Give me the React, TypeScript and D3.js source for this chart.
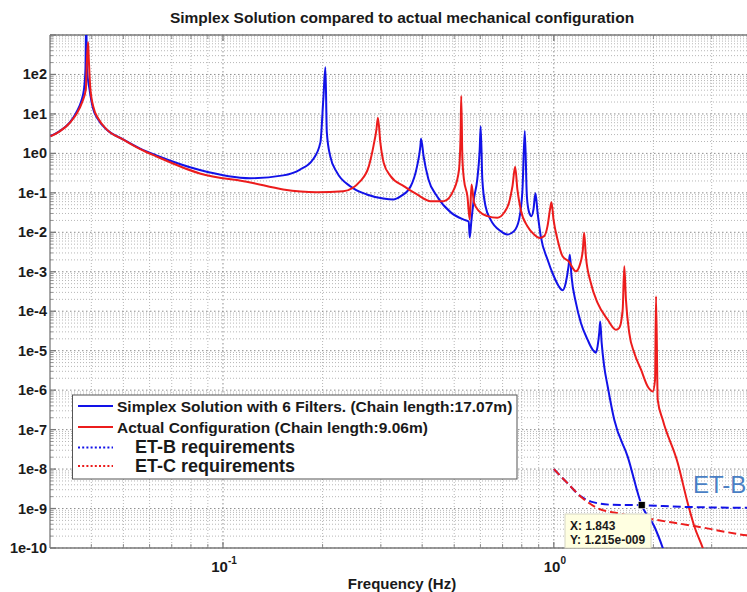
import React from "react";
import * as d3 from "d3";

const TITLE = "Simplex Solution compared to actual mechanical configuration";
const X_LABEL = "Frequency (Hz)";
const LEGEND_LABELS = [
  "Simplex Solution with 6 Filters. (Chain length:17.07m)",
  "Actual Configuration (Chain length:9.06m)",
  "ET-B requirements",
  "ET-C requirements",
];
const Y_TICK_VALUES = [1e2, 1e1, 1e0, 1e-1, 1e-2, 1e-3, 1e-4, 1e-5, 1e-6, 1e-7, 1e-8, 1e-9, 1e-10];
const Y_TICK_LABELS = ["1e2", "1e1", "1e0", "1e-1", "1e-2", "1e-3", "1e-4", "1e-5", "1e-6", "1e-7", "1e-8", "1e-9", "1e-10"];
const X_TICK_VALUES = [0.1, 1];
const X_TICK_EXPONENTS = ["-1", "0"];
const TIP_X = 1.843;
const TIP_Y = 1.215e-9;
const TIP_LABELS = ["X: 1.843", "Y: 1.215e-009"];
const ETB_LABEL = "ET-B";

// [frequency (Hz), magnitude]
const simplexData: [number, number][] = [
  [0.0301, 2.75], [0.0321, 3.68], [0.0344, 6.0], [0.036, 10.8], [0.0373, 21.2], [0.038, 42],
  [0.0384, 135], [0.0386, 3000], [0.0388, 135], [0.0395, 42], [0.0404, 14.5], [0.0419, 7.3],
  [0.0444, 4.07], [0.0499, 2.27], [0.056, 1.34], [0.0635, 0.86], [0.0851, 0.38], [0.121, 0.235],
  [0.152, 0.277], [0.171, 0.39], [0.187, 0.7], [0.197, 1.9], [0.201, 23], [0.204, 152],
  [0.206, 3.4], [0.211, 0.84], [0.221, 0.33], [0.243, 0.145], [0.272, 0.091], [0.305, 0.072],
  [0.327, 0.068], [0.344, 0.081], [0.369, 0.145], [0.386, 0.47], [0.395, 1.5], [0.397, 2.36],
  [0.404, 0.84], [0.418, 0.219], [0.444, 0.081], [0.488, 0.032], [0.534, 0.021], [0.553, 0.0188],
  [0.557, 0.0074], [0.563, 0.0183], [0.573, 0.068], [0.587, 0.219], [0.597, 1.26], [0.601, 4.9],
  [0.608, 0.219], [0.622, 0.045], [0.644, 0.021], [0.691, 0.0107], [0.724, 0.0088], [0.758, 0.0107],
  [0.785, 0.021], [0.804, 0.122], [0.817, 3.7], [0.829, 0.082], [0.842, 0.032], [0.856, 0.0257],
  [0.868, 0.038], [0.88, 0.098], [0.893, 0.032], [0.913, 0.008], [0.957, 0.00204], [1.0, 7.7e-4],
  [1.035, 4.3e-4], [1.063, 3.4e-4], [1.087, 5.3e-4], [1.108, 1.38e-3], [1.118, 2.7e-3], [1.131, 7.7e-4],
  [1.166, 1.65e-4], [1.207, 5.1e-5], [1.265, 1.9e-5], [1.31, 1.06e-5], [1.34, 8.9e-6], [1.356, 1.29e-5],
  [1.372, 2.86e-5], [1.381, 5.5e-5], [1.395, 1.6e-5], [1.42, 4.0e-6], [1.455, 1.24e-6], [1.523, 1.77e-7],
  [1.672, 2.07e-8], [1.843, 1.215e-9], [2.013, 3.5e-10], [2.135, 1e-10], [2.18, 6e-11],
];

const actualData: [number, number][] = [
  [0.0301, 2.7], [0.0321, 3.6], [0.0344, 5.9], [0.0361, 10.1], [0.0375, 19.7], [0.0385, 42],
  [0.0388, 243], [0.0391, 660], [0.0393, 243], [0.0397, 47], [0.0406, 14.7], [0.0421, 7.3],
  [0.0445, 4.07], [0.0501, 2.2], [0.056, 1.3], [0.0635, 0.81], [0.0851, 0.31], [0.121, 0.184],
  [0.152, 0.122], [0.192, 0.104], [0.231, 0.11], [0.26, 0.198], [0.276, 0.476], [0.285, 1.53],
  [0.291, 4.07], [0.294, 8.05], [0.299, 1.87], [0.306, 0.58], [0.321, 0.265], [0.352, 0.148],
  [0.386, 0.091], [0.424, 0.0615], [0.465, 0.0615], [0.499, 0.122], [0.517, 0.39], [0.523, 4.07],
  [0.525, 28.5], [0.529, 0.85], [0.535, 0.219], [0.548, 0.082], [0.557, 0.021], [0.564, 0.163],
  [0.574, 0.056], [0.594, 0.0344], [0.63, 0.0257], [0.675, 0.0234], [0.707, 0.0313], [0.732, 0.056],
  [0.75, 0.148], [0.764, 0.46], [0.776, 0.122], [0.794, 0.038], [0.832, 0.0143], [0.872, 0.0088],
  [0.903, 0.0072], [0.935, 0.008], [0.957, 0.0143], [0.974, 0.038], [0.984, 0.058], [0.998, 0.021],
  [1.026, 0.0066], [1.063, 0.00247], [1.11, 0.00182], [1.166, 0.00103], [1.199, 0.00152], [1.224, 0.00366],
  [1.235, 0.0097], [1.25, 0.00247], [1.294, 5.2e-4], [1.356, 1.62e-4], [1.455, 6.1e-5], [1.541, 3.4e-5],
  [1.577, 3.8e-5], [1.615, 1.1e-4], [1.633, 1.38e-3], [1.652, 1.97e-4], [1.691, 2.8e-5], [1.751, 8.7e-6],
  [1.835, 3.3e-6], [1.922, 1.24e-6], [1.991, 9.3e-7], [2.023, 1.84e-6], [2.037, 2.4e-4], [2.061, 5.7e-7],
  [2.134, 1.77e-7], [2.37, 1.41e-8], [2.54, 1.36e-9], [2.66, 3.5e-10], [2.82, 1e-10], [2.89, 5.6e-11],
];

const etbData: [number, number][] = [
  [1.0, 1e-8], [1.1, 4.4e-9], [1.2, 2.1e-9], [1.295, 1.5e-9], [1.488, 1.25e-9], [1.843, 1.215e-9],
  [2.48, 1.1e-9], [4.0, 1.04e-9],
];

const etcData: [number, number][] = [
  [1.0, 1e-8], [1.1, 4.4e-9], [1.207, 2.0e-9], [1.357, 1.02e-9], [1.56, 7.6e-10], [1.97, 5.4e-10],
  [2.66, 3.6e-10], [3.82, 2.1e-10], [4.0, 2.0e-10],
];

const W = 747;
const H = 592;
const PL = 50, PT = 35, PR = 753, PB = 548;
const FONT = "'Liberation Sans', Arial, Helvetica, sans-serif";
const BLUE = "#1212e8";
const RED = "#ec1c1c";
const AXIS = "#7a7a7a";

export default function App() {
  const x = d3.scaleLog().domain([0.03, 4]).range([PL, PR]);
  const y = d3.scaleLog().domain([1e-10, 1e3]).range([PB, PT]);

  const line = d3
    .line<[number, number]>()
    .x((d) => x(d[0]))
    .y((d) => y(d[1]))
    .curve(d3.curveMonotoneX);

  const xMinor: number[] = [];
  [0.01, 0.1, 1].forEach((d) => {
    for (let k = 2; k <= 9; k++) {
      const v = k * d;
      if (v > 0.03 && v < 4.0001) xMinor.push(v);
    }
  });
  const yMinor: number[] = [];
  for (let e = -10; e <= 2; e++) {
    for (let k = 2; k <= 9; k++) yMinor.push(k * Math.pow(10, e));
  }
  const yMajor = d3.range(-10, 4).map((e) => Math.pow(10, e));

  const legendY = [406, 427, 447.5, 466];
  const legendTextY = [411.5, 432.5, 453, 471.5];
  const legendColors = [BLUE, RED, BLUE, RED];
  const legendDash = [null, null, "2 2.2", "2 2.2"];

  return (
    <svg
      width={W}
      height={H}
      style={{ position: "absolute", left: 0, top: 0, display: "block", background: "#fff" }}
      fontFamily={FONT}
    >
      <defs>
        <clipPath id="plotclip">
          <rect x={PL} y={PT} width={PR - PL} height={PB - PT} />
        </clipPath>
      </defs>
      <rect x={0} y={0} width={W} height={H} fill="#fff" />

      {/* grid */}
      <g>
        {xMinor.map((v, i) => (
          <line key={"xm" + i} x1={x(v)} x2={x(v)} y1={PT} y2={PB} stroke="#a4a4a4" strokeWidth={0.8} strokeDasharray="1 2" />
        ))}
        {X_TICK_VALUES.map((v, i) => (
          <line key={"xM" + i} x1={x(v)} x2={x(v)} y1={PT} y2={PB} stroke="#808080" strokeWidth={0.9} strokeDasharray="1.5 2.5" />
        ))}
        {yMinor.map((v, i) => (
          <line key={"ym" + i} x1={PL} x2={PR} y1={y(v)} y2={y(v)} stroke="#a4a4a4" strokeWidth={0.8} strokeDasharray="1 2" />
        ))}
        {yMajor.map((v, i) => (
          <line key={"yM" + i} x1={PL} x2={PR} y1={y(v)} y2={y(v)} stroke="#808080" strokeWidth={0.9} strokeDasharray="1.5 2.5" />
        ))}
      </g>

      {/* axes box and ticks */}
      <g stroke={AXIS} strokeWidth={1.3}>
        <line x1={PL} x2={PL} y1={PT} y2={PB} />
        <line x1={PL} x2={PR} y1={PT} y2={PT} />
        <line x1={PL} x2={PR} y1={PB} y2={PB} />
        {yMajor.map((v, i) => (
          <line key={"yt" + i} x1={PL} x2={PL + 6} y1={y(v)} y2={y(v)} />
        ))}
        {yMinor.map((v, i) => (
          <line key={"ymt" + i} x1={PL} x2={PL + 3} y1={y(v)} y2={y(v)} strokeWidth={0.8} />
        ))}
        {X_TICK_VALUES.map((v, i) => (
          <g key={"xt" + i}>
            <line x1={x(v)} x2={x(v)} y1={PB} y2={PB - 6} />
            <line x1={x(v)} x2={x(v)} y1={PT} y2={PT + 6} />
          </g>
        ))}
        {xMinor.map((v, i) => (
          <g key={"xmt" + i} strokeWidth={0.8}>
            <line x1={x(v)} x2={x(v)} y1={PB} y2={PB - 4} />
            <line x1={x(v)} x2={x(v)} y1={PT} y2={PT + 4} />
          </g>
        ))}
      </g>

      {/* curves */}
      <g clipPath="url(#plotclip)" fill="none" strokeLinejoin="round">
        <path d={line(simplexData) || ""} stroke={BLUE} strokeWidth={2} />
        <path d={line(actualData) || ""} stroke={RED} strokeWidth={2} />
        <path d={line(etbData) || ""} stroke={BLUE} strokeWidth={2} strokeDasharray="8 4" />
        <path d={line(etcData) || ""} stroke={RED} strokeWidth={2} strokeDasharray="8 4" />
      </g>

      {/* y tick labels */}
      {Y_TICK_VALUES.map((v, i) => (
        <text key={"yl" + i} x={47} y={y(v) + 5} textAnchor="end" fontSize={14.5} fontWeight="bold" fill="#1a1a1a">
          {Y_TICK_LABELS[i]}
        </text>
      ))}

      {/* x tick labels */}
      {X_TICK_VALUES.map((v, i) => (
        <text key={"xl" + i} x={x(v) + 1} y={572} textAnchor="middle" fontSize={15} fontWeight="bold" fill="#1a1a1a">
          10
          <tspan dy={-8} fontSize={10}>{X_TICK_EXPONENTS[i]}</tspan>
        </text>
      ))}

      {/* title and axis label */}
      <text x={402} y={23} textAnchor="middle" fontSize={15.5} fontWeight="bold" fill="#1a1a1a">
        {TITLE}
      </text>
      <text x={402} y={589} textAnchor="middle" fontSize={15} fontWeight="bold" fill="#1a1a1a">
        {X_LABEL}
      </text>

      {/* ET-B label */}
      <text x={693} y={493} fontSize={24} fill="#4a7fc4">
        {ETB_LABEL}
      </text>

      {/* legend */}
      <g>
        <rect x={72.5} y={395} width={444.5} height={84} fill="#fff" stroke="#555" strokeWidth={1} />
        {LEGEND_LABELS.map((lab, i) => (
          <g key={"lg" + i}>
            <line
              x1={78}
              x2={113}
              y1={legendY[i]}
              y2={legendY[i]}
              stroke={legendColors[i]}
              strokeWidth={2}
              strokeDasharray={legendDash[i] || undefined}
            />
            <text
              x={i < 2 ? 117 : 135}
              y={legendTextY[i]}
              fontSize={i < 2 ? 15.5 : 18}
              fontWeight="bold"
              fill="#1a1a1a"
            >
              {lab}
            </text>
          </g>
        ))}
      </g>

      {/* data tip */}
      <g>
        <rect x={565} y={514} width={86} height={34} fill="#ffffe1" stroke="#d6d6c2" strokeWidth={1} />
        <text x={570} y={530} fontSize={12} fontWeight="bold" fill="#1a1a1a">{TIP_LABELS[0]}</text>
        <text x={570} y={544} fontSize={12} fontWeight="bold" fill="#1a1a1a">{TIP_LABELS[1]}</text>
        <rect x={x(TIP_X) - 3.5} y={y(TIP_Y) - 3.5} width={7} height={7} fill="#000" stroke="#fff" strokeWidth={0.6} />
      </g>
    </svg>
  );
}
